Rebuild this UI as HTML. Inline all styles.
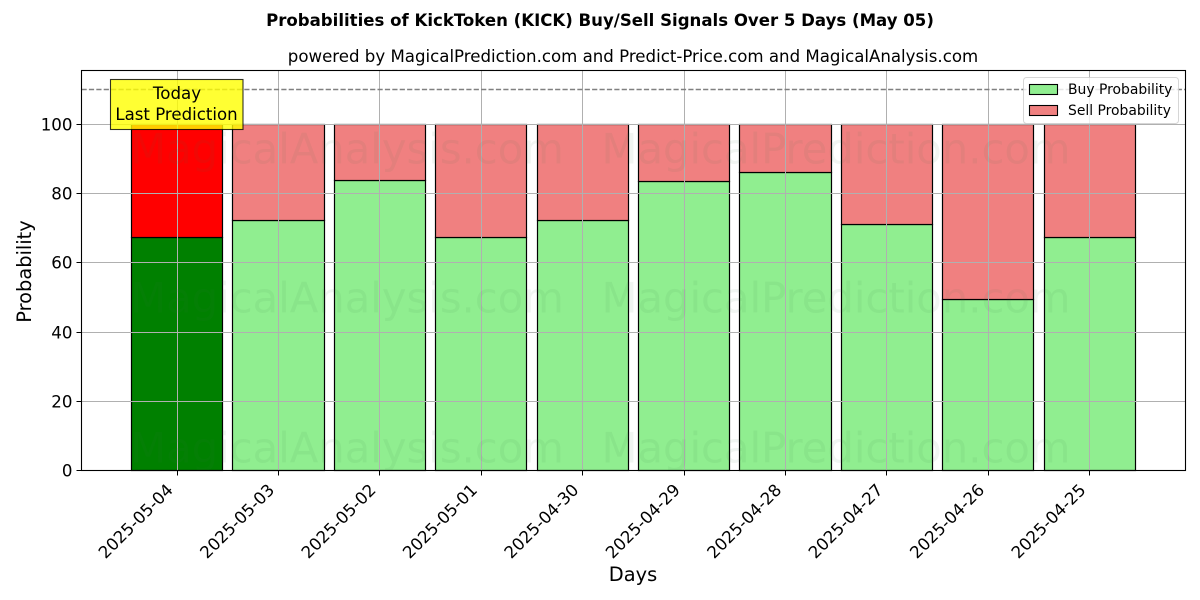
<!DOCTYPE html>
<html>
<head>
<meta charset="utf-8">
<title>Probabilities of KickToken (KICK) Buy/Sell Signals</title>
<style>
html,body{margin:0;padding:0;background:#fff;width:1200px;height:600px;overflow:hidden}
svg{display:block}
text{font-family:"DejaVu Sans","Liberation Sans",sans-serif;fill:#000}
</style>
</head>
<body>
<svg id="chart" xmlns="http://www.w3.org/2000/svg" width="1200" height="600" viewBox="0 0 1200 600">
  <rect x="0" y="0" width="1200" height="600" fill="#fff"/>
  <text x="600" y="26" text-anchor="middle" font-size="16.57" font-weight="bold">Probabilities of KickToken (KICK) Buy/Sell Signals Over 5 Days (May 05)</text>
  <text x="633" y="62" text-anchor="middle" font-size="16.62">powered by MagicalPrediction.com and Predict-Price.com and MagicalAnalysis.com</text>
  <g id="bars"></g>
  <g id="grid"></g>
  <line id="ref-line" stroke="#808080" stroke-width="1.4" stroke-dasharray="5.2 2.2"/>
  <g id="watermarks"></g>
  <rect id="frame" fill="none" stroke="#000" stroke-width="1.1"/>
  <g id="ticks"></g>
  <text x="633" y="581" text-anchor="middle" font-size="19.4">Days</text>
  <text transform="translate(31 271.5) rotate(-90)" text-anchor="middle" font-size="19.4">Probability</text>
  <g>
    <rect x="110.5" y="79.5" width="132.5" height="50" fill="#ffff00" fill-opacity="0.8" stroke="#000" stroke-opacity="0.8" stroke-width="1.1"/>
    <text x="177" y="99" text-anchor="middle" font-size="16.67">Today</text>
    <text x="176.5" y="120" text-anchor="middle" font-size="16.6">Last Prediction</text>
  </g>
  <g>
    <rect x="1023.5" y="77.5" width="155" height="46" rx="3" fill="#fff" fill-opacity="0.8" stroke="#ccc" stroke-opacity="0.8" stroke-width="1"/>
    <rect x="1029.5" y="84.5" width="28" height="10" fill="#90ee90" stroke="#000" stroke-width="1.1"/>
    <text x="1068" y="94" font-size="13.9">Buy Probability</text>
    <rect x="1029.5" y="105.5" width="28" height="10" fill="#f08080" stroke="#000" stroke-width="1.1"/>
    <text x="1068" y="115" font-size="13.9">Sell Probability</text>
  </g>
</svg>
<script>
const categories = ['2025-05-04','2025-05-03','2025-05-02','2025-05-01','2025-04-30','2025-04-29','2025-04-28','2025-04-27','2025-04-26','2025-04-25'];
const buyValues = [67.3, 72.2, 83.8, 67.3, 72.2, 83.5, 86.1, 71.1, 49.4, 67.3];
const sellValues = [32.7, 27.8, 16.2, 32.7, 27.8, 16.5, 13.9, 28.9, 50.6, 32.7];
const yTickValues = [0, 20, 40, 60, 80, 100];
const referenceValue = 110;
const watermarkLabels = ['MagicalAnalysis.com', 'MagicalPrediction.com'];
const watermarkLevels = [88.7, 45.6, 2.3];

const NS = 'http://www.w3.org/2000/svg';
const plotLeft = 81.5, plotRight = 1185.5, plotTop = 70.5, plotBottom = 470.5;
const xStart = 177, xStep = 101.42, barWidth = 91.2;
const yZero = 470.7, yScale = 3.465;
function xAxis(i) { return xStart + i * xStep; }
function yAxis(v) { return yZero - v * yScale; }
function snap(p) { return Math.floor(p + 0.01) + 0.5; }
function make(tag, attrs, parent) {
  const el = document.createElementNS(NS, tag);
  for (const k in attrs) el.setAttribute(k, attrs[k]);
  parent.appendChild(el);
  return el;
}
const barsG = document.getElementById('bars');
const gridG = document.getElementById('grid');
const ticksG = document.getElementById('ticks');
const wmG = document.getElementById('watermarks');

categories.forEach(function (cat, i) {
  const cx = xAxis(i);
  const tx = snap(cx);
  const left = snap(cx - barWidth / 2);
  const right = snap(cx + barWidth / 2);
  const yBuy = snap(yAxis(buyValues[i]));
  const yTop = snap(yAxis(buyValues[i] + sellValues[i]));
  const buy = make('rect', {x: left, y: yBuy, width: right - left, height: plotBottom - yBuy, fill: i === 0 ? '#008000' : '#90ee90', stroke: '#000', 'stroke-width': 1.2}, barsG);
  
  
  const sell = make('rect', {x: left, y: yTop, width: right - left, height: yBuy - yTop, fill: i === 0 ? '#ff0000' : '#f08080', stroke: '#000', 'stroke-width': 1.2}, barsG);
  
  

  const grid = make('line', {x1: tx, x2: tx, y1: plotTop, y2: plotBottom, stroke: '#b0b0b0', 'stroke-width': 1}, gridG);
  
  
  const tick = make('line', {x1: tx, x2: tx, y1: plotBottom, y2: plotBottom + 5, stroke: '#000', 'stroke-width': 1}, ticksG);
  
  
  const label = make('text', {'text-anchor': 'end', 'font-size': 16.67, transform: 'translate(' + (cx - 3) + ' 491) rotate(-45)'}, ticksG);
  
  
  label.textContent = cat;
});

yTickValues.forEach(function (v) {
  const y = snap(yAxis(v));
  const grid = make('line', {x1: plotLeft, x2: plotRight, y1: y, y2: y, stroke: '#b0b0b0', 'stroke-width': 1}, gridG);
  
  
  const tick = make('line', {x1: plotLeft - 5, x2: plotLeft, y1: y, y2: y, stroke: '#000', 'stroke-width': 1}, ticksG);
  
  
  const label = make('text', {x: plotLeft - 9, y: y + 6, 'text-anchor': 'end', 'font-size': 16.67}, ticksG);
  
  
  label.textContent = v;
});

const refLine = document.getElementById('ref-line');
refLine.setAttribute('x1', plotLeft);
refLine.setAttribute('x2', plotRight);
refLine.setAttribute('y1', snap(yAxis(referenceValue)));
refLine.setAttribute('y2', snap(yAxis(referenceValue)));

const frame = document.getElementById('frame');
frame.setAttribute('x', plotLeft);
frame.setAttribute('y', plotTop);
frame.setAttribute('width', plotRight - plotLeft);
frame.setAttribute('height', plotBottom - plotTop);

watermarkLevels.forEach(function (level) {
  watermarkLabels.forEach(function (txt, j) {
    const t = make('text', {x: j === 0 ? 347 : 836, y: yAxis(level), 'text-anchor': 'middle', 'font-size': 41.7, 'fill-opacity': 0.07, style: 'fill:#3c6e46'}, wmG);
    
    
    t.textContent = txt;
  });
});
</script>
</body>
</html>
